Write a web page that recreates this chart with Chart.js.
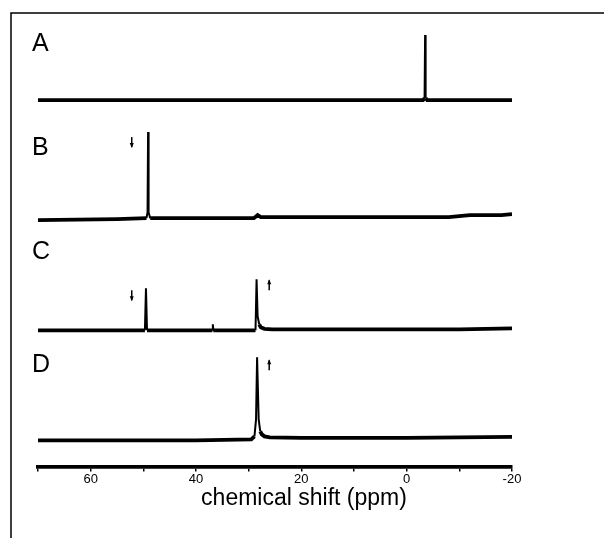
<!DOCTYPE html>
<html>
<head>
<meta charset="utf-8">
<script src="https://cdn.jsdelivr.net/npm/chart.js@4.4.1/dist/chart.umd.min.js"></script>
<style>
  html, body { margin: 0; padding: 0; background: #fff; }
  canvas { display: block; }
</style>
</head>
<body>
<canvas id="nmrChart" width="604" height="538"></canvas>
<script>
// chemical shift (ppm) / intensity for each trace
const ppmA = [70, 50, 30, 10, -3.1, -3.4, -3.5, -3.6, -3.9, -10, -20];
const intA = [0, 0, 0, 0, 0, 2, 65, 2, 0, 0, 0];

const ppmB = [70, 55, 49.4, 49.2, 49.1, 49.0, 48.7, 40, 29, 28.3, 27.7, 20, 5, -8, -12, -18, -20];
const intB = [-2, -1, 0, 6, 86, 6, 0, 0, 0, 3, 1, 1, 1, 1, 3, 3, 4];

const ppmC = [70, 55, 49.7, 49.5, 49.3, 40, 36.9, 36.8, 36.7, 30, 28.7, 28.5, 28.3, 28.0, 27.7, 27.0, 25.5, 10, -10, -20];
const intC = [0, 0, 0, 42, 0, 0, 0, 6, 0, 0, 0, 51, 14, 6, 3, 1.5, 1, 1, 1, 2];

const ppmD = [70, 40, 29.5, 28.9, 28.6, 28.4, 28.1, 27.8, 27.5, 27.0, 26.0, 20, 0, -20];
const intD = [-1, -1, 0, 3, 20, 82, 20, 8, 5, 3, 2, 1.5, 1.5, 2.5];

const panelNames = ['A', 'B', 'C', 'D'];
const baselines = [366, 248, 136, 27];
const labelHeights = [56, 70, 78, 74];

// small arrows marking peaks
const arrowPanel = [1, 2, 2, 3];
const arrowPpm = [52.2, 52.2, 26.1, 26.1];
const arrowHeight = [76, 35, 45, 74];
const arrowDir = ['down', 'down', 'up', 'up'];

const xLabels = [60, 40, 20, 0, -20];

const traces = [[ppmA, intA], [ppmB, intB], [ppmC, intC], [ppmD, intD]];

const datasets = traces.map(function (t, i) {
  return {
    label: panelNames[i],
    data: t[0].map(function (p, j) { return { x: p, y: t[1][j] + baselines[i] }; }),
    borderColor: '#000',
    borderWidth: 3.8,
    pointRadius: 0,
    tension: 0,
    fill: false,
    segment: {
      borderWidth: function (ctx) {
        return Math.abs(ctx.p1.parsed.y - ctx.p0.parsed.y) > 4 ? 2 : 3.8;
      }
    }
  };
});

const decor = {
  id: 'decor',
  afterDatasetsDraw(chart) {
    const ctx = chart.ctx;
    const xs = chart.scales.x;
    const ys = chart.scales.y;
    ctx.save();
    ctx.fillStyle = '#000';
    ctx.strokeStyle = '#000';

    // frame lines
    ctx.lineWidth = 1.5;
    ctx.beginPath();
    ctx.moveTo(11, 538);
    ctx.lineTo(11, 13);
    ctx.lineTo(604, 13);
    ctx.stroke();

    // panel letters
    ctx.font = '25px "Liberation Sans", Arial, sans-serif';
    ctx.textBaseline = 'middle';
    ctx.textAlign = 'left';
    panelNames.forEach(function (n, i) {
      ctx.fillText(n, xs.left - 6, ys.getPixelForValue(baselines[i] + labelHeights[i]));
    });

    // arrows
    ctx.lineWidth = 1.5;
    arrowPanel.forEach(function (p, i) {
      const x = xs.getPixelForValue(arrowPpm[i]);
      const y = ys.getPixelForValue(baselines[p] + arrowHeight[i]);
      const s = arrowDir[i] === 'down' ? 1 : -1;
      ctx.beginPath();
      ctx.moveTo(x, y - 5 * s);
      ctx.lineTo(x, y + 5 * s);
      ctx.stroke();
      ctx.beginPath();
      ctx.moveTo(x, y + 6 * s);
      ctx.lineTo(x - 2, y + 1 * s);
      ctx.lineTo(x + 2, y + 1 * s);
      ctx.closePath();
      ctx.fill();
    });

    // axis title
    ctx.font = '23px "Liberation Sans", Arial, sans-serif';
    ctx.textAlign = 'center';
    ctx.fillText('chemical shift (ppm)', 304, 499);
    ctx.restore();
  }
};

new Chart(document.getElementById('nmrChart'), {
  type: 'line',
  data: { datasets: datasets },
  options: {
    responsive: false,
    animation: false,
    layout: { padding: { left: 38, right: 92, top: 14, bottom: 51 } },
    plugins: { legend: { display: false }, tooltip: { enabled: false } },
    scales: {
      x: {
        type: 'linear',
        reverse: true,
        min: -20,
        max: 70,
        border: { display: true, color: '#000', width: 3.8 },
        grid: { drawOnChartArea: false, color: '#000', tickColor: '#000', tickLength: 5, lineWidth: 1.5 },
        ticks: {
          stepSize: 10,
          color: '#000',
          padding: 0,
          maxRotation: 0,
          autoSkip: false,
          font: { size: 13, family: '"Liberation Sans", Arial, sans-serif' },
          callback: function (v) { return xLabels.indexOf(v) >= 0 ? String(v) : ''; }
        }
      },
      y: { display: false, min: 0, max: 452 }
    }
  },
  plugins: [decor]
});
</script>
</body>
</html>
